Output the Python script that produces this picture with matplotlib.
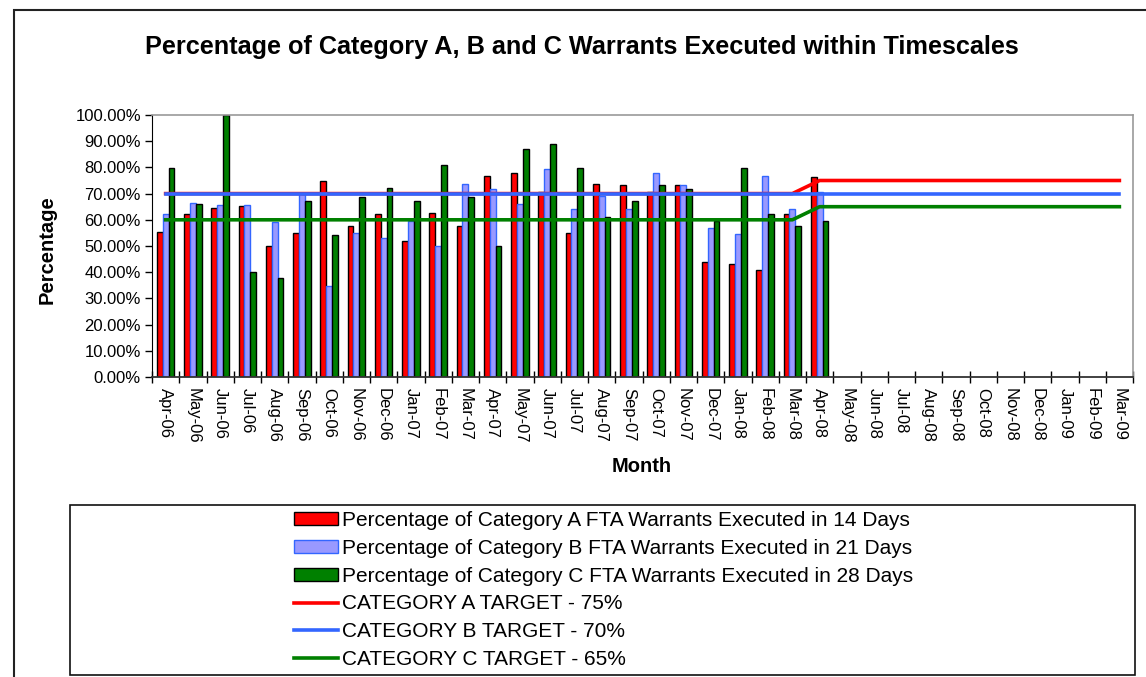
import numpy as np
import matplotlib
matplotlib.use("Agg")
import matplotlib.pyplot as plt
from matplotlib.patches import Rectangle
from matplotlib.ticker import FuncFormatter

plt.rcParams['font.family'] = ['Liberation Sans', 'DejaVu Sans']

months = ["Apr-06", "May-06", "Jun-06", "Jul-06", "Aug-06", "Sep-06", "Oct-06", "Nov-06",
          "Dec-06", "Jan-07", "Feb-07", "Mar-07", "Apr-07", "May-07", "Jun-07", "Jul-07",
          "Aug-07", "Sep-07", "Oct-07", "Nov-07", "Dec-07", "Jan-08", "Feb-08", "Mar-08",
          "Apr-08", "May-08", "Jun-08", "Jul-08", "Aug-08", "Sep-08", "Oct-08", "Nov-08",
          "Dec-08", "Jan-09", "Feb-09", "Mar-09"]

# monthly results, Apr-06 to Apr-08
cat_a = [55.4, 62.2, 64.6, 65.2, 50.1, 54.8, 75.0, 57.8, 62.2, 51.8, 62.7, 57.8, 76.7,
         78.0, 70.7, 54.8, 73.8, 73.1, 70.7, 73.1, 43.8, 43.3, 40.8, 62.2, 76.2]
cat_b = [62.2, 66.5, 65.7, 65.7, 59.1, 70.0, 34.6, 54.8, 53.1, 59.4, 50.1, 73.8, 71.8,
         65.9, 79.2, 64.1, 68.9, 64.1, 78.0, 73.1, 56.7, 54.4, 76.7, 64.1, 70.7]
cat_c = [79.7, 66.2, 100.0, 40.1, 37.7, 67.0, 54.3, 68.8, 72.0, 67.0, 81.0, 68.8, 50.1,
         87.1, 89.0, 79.7, 61.0, 67.0, 73.1, 71.8, 59.5, 79.7, 62.2, 57.8, 59.6]

# targets over the whole period (24 months old target, then 12 months new target)
target_a = [70] * 24 + [75] * 12
target_b = [70] * 36
target_c = [60] * 24 + [65] * 12

W, H = 1146, 677
fig = plt.figure(figsize=(W / 100, H / 100), dpi=100)
ax = fig.add_axes([152 / W, 1 - 377 / H, (1133 - 152) / W, (377 - 115) / H])

x = np.arange(len(cat_a))
bw = 0.212
b1 = ax.bar(x - bw, cat_a, bw, color='#FF0000', edgecolor='black', linewidth=1.0, zorder=2)
b2 = ax.bar(x, cat_b, bw, color='#9999FF', edgecolor='#3366FF', linewidth=1.0, zorder=2)
b3 = ax.bar(x + bw, cat_c, bw, color='#008000', edgecolor='black', linewidth=1.0, zorder=2)

xt = np.arange(len(months))
l1, = ax.plot(xt, target_a, color='#FF0000', lw=2.6, zorder=3)
l2, = ax.plot(xt, target_b, color='#3366FF', lw=2.6, zorder=3)
l3, = ax.plot(xt, target_c, color='#008000', lw=2.6, zorder=3)

ax.set_xlim(-0.5, len(months) - 0.5)
ax.set_ylim(0, 100)
ax.set_yticks(np.arange(0, 101, 10))
ax.yaxis.set_major_formatter(FuncFormatter(lambda v, p: '%.2f%%' % v))
ax.tick_params(axis='y', direction='out', length=5, width=1, labelsize=12, pad=3)

ax.set_xticks(xt)
ax.set_xticklabels(months, rotation=270, fontsize=12)
ax.set_xticks(np.arange(-0.5, len(months)), minor=True)
ax.tick_params(axis='x', which='major', length=0, pad=8)
ax.tick_params(axis='x', which='minor', direction='inout', length=8, width=1)

for s in ['top', 'right']:
    ax.spines[s].set_color('#999999')
    ax.spines[s].set_linewidth(1.2)
ax.spines['left'].set_color('black')
ax.spines['bottom'].set_color('#333333')
ax.spines['bottom'].set_linewidth(1.3)

fig.text(47 / W, 1 - 250 / H, 'Percentage', rotation=90, ha='center', va='center',
         fontsize=14.5, fontweight='bold')
fig.text(642 / W, 1 - 467 / H, 'Month', ha='center', va='center',
         fontsize=14.5, fontweight='bold')
fig.text(582 / W, 1 - 47 / H, 'Percentage of Category A, B and C Warrants Executed within Timescales',
         ha='center', va='center', fontsize=18.2, fontweight='bold')

# chart border and legend box
fig.patches.append(Rectangle((14 / W, -0.1), 1.2, 1.1 - 10 / H, transform=fig.transFigure,
                             fill=False, edgecolor='#222222', lw=1.5))
fig.patches.append(Rectangle((70 / W, 1 - 675 / H), (1135 - 70) / W, (675 - 505) / H,
                             transform=fig.transFigure, fill=False, edgecolor='#111111', lw=1.2))

handles = [b1, b2, b3, l1, l2, l3]
labels = ['Percentage of Category A FTA Warrants Executed in 14 Days',
          'Percentage of Category B FTA Warrants Executed in 21 Days',
          'Percentage of Category C FTA Warrants Executed in 28 Days',
          'CATEGORY A TARGET - 75%',
          'CATEGORY B TARGET - 70%',
          'CATEGORY C TARGET - 65%']
fig.legend(handles, labels, loc='center', bbox_to_anchor=(604 / W, 1 - 590 / H), frameon=False,
           fontsize=15, handlelength=2.1, handleheight=0.6, handletextpad=0.2,
           labelspacing=0.43)

fig.savefig('out.png', dpi=100)
